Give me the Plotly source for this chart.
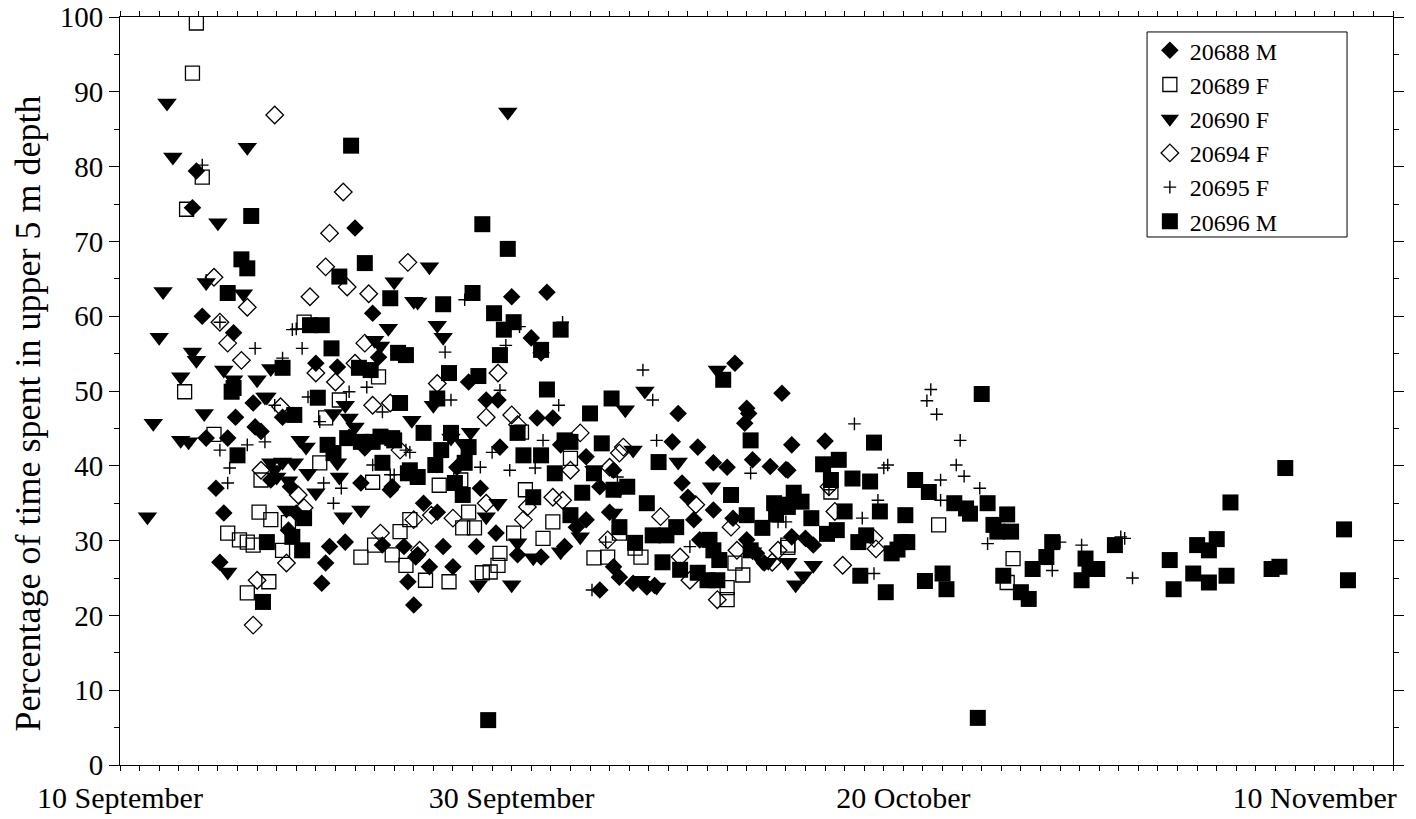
import pandas as pd
import plotly.graph_objects as go

# Day offsets are counted from 10 September; values are % of time in the upper 5 m.
START = pd.Timestamp("1999-09-10")

# 20688 M
d688 = [3.9, 3.7, 4.2, 5.8, 12.0, 12.9, 10.0, 11.1, 6.8, 13.2,
        4.4, 5.5, 4.9, 5.3, 5.1, 5.9, 6.9, 7.7, 8.3, 8.7, 8.6, 10.3, 10.5, 10.7, 11.5,
        12.3, 13.4, 13.9, 14.5, 14.7, 15.0, 15.1, 9.0, 7.2, 12.5, 11.7,
        20.0, 21.8, 21.0, 21.5, 17.8, 18.7, 19.3, 31.4, 33.8, 32.0, 28.5,
        13.8, 15.5, 16.2, 15.2, 15.8, 16.5, 17.0, 17.2, 18.4, 19.2, 18.2, 19.4, 21.3, 22.1,
        20.3, 21.5, 22.7, 23.3, 22.5, 23.8, 24.5, 25.2, 25.5, 26.2, 26.9, 27.3, 25.0, 24.5,
        25.2, 23.8, 28.2, 28.7, 29.5, 29.0, 29.3, 29.6, 30.3, 31.0, 32.3, 34.1, 34.3, 32.1,
        31.9, 32.0, 31.3, 30.3, 32.5, 32.9, 34.3, 36.0, 34.0, 33.2, 35.0, 35.4]
v688 = [79.4, 74.5, 60.0, 57.8, 71.8, 60.4, 53.7, 53.2, 48.4, 54.5,
        43.7, 43.7, 37.0, 33.7, 27.1, 46.5, 45.2, 38.1, 46.5, 37.2, 31.4, 24.3, 27.0, 29.2, 29.8,
        37.7, 29.4, 37.2, 29.2, 24.5, 21.4, 27.8, 33.7, 44.6, 42.4, 43.8,
        62.6, 63.2, 57.1, 55.1, 51.2, 48.8, 48.8, 53.7, 49.7, 47.7, 47.0,
        36.8, 35.0, 33.8, 28.1, 26.5, 29.2, 26.5, 39.8, 37.0, 31.0, 29.2, 42.5, 46.4, 46.4,
        28.1, 27.8, 29.2, 31.8, 42.8, 32.8, 23.4, 26.5, 25.1, 24.3, 23.8, 24.0, 33.8, 37.2,
        39.4, 41.2, 43.2, 37.7, 42.5, 35.8, 32.8, 30.1, 40.4, 39.8, 40.8, 39.4, 42.8, 47.0,
        45.7, 30.1, 33.0, 34.1, 28.3, 27.0, 30.5, 43.3, 39.5, 39.9, 30.3, 29.4]

# 20689 F
d689 = [3.9, 3.7, 4.2, 3.4, 3.3, 9.4, 13.2, 11.2,
        5.5, 6.1, 6.5, 6.8, 7.1, 7.7, 6.5, 7.6, 8.3, 8.6, 7.2, 10.2, 12.3, 12.9, 13.0,
        13.9, 14.6, 14.3, 14.8, 10.5, 4.8,
        15.6, 16.8, 16.3, 17.8, 17.5, 18.1, 18.5, 18.9, 19.3, 19.4, 17.4, 20.1, 20.5, 20.7,
        22.1, 21.6, 23.0, 24.2, 24.9, 25.5, 26.3, 26.6, 31.0, 31.0, 31.8, 31.4, 34.1,
        41.8, 45.6, 45.3, 34.1, 36.3]
v689 = [99.2, 92.5, 78.6, 74.3, 49.9, 59.2, 51.9, 48.8,
        31.0, 30.1, 29.8, 29.4, 33.8, 32.8, 23.0, 24.5, 28.7, 32.4, 38.1, 40.4, 27.8, 37.8, 29.4,
        28.1, 26.7, 31.2, 32.8, 46.4, 44.2,
        24.7, 24.5, 37.4, 33.8, 31.7, 31.7, 25.7, 25.8, 26.7, 28.3, 38.1, 31.0, 44.5, 36.8,
        32.5, 30.3, 41.0, 27.7, 27.8, 31.0, 29.0, 27.8, 23.7, 22.1, 25.4, 27.0, 29.4,
        32.1, 27.6, 24.4, 29.1, 36.5]

# 20690 F
d690 = [1.4, 1.7, 2.0, 2.2, 2.4, 2.7, 3.1, 3.5, 3.1, 3.7, 3.9, 4.3, 4.4, 5.0, 6.5,
        6.3, 5.3, 5.8, 7.0, 7.7, 7.5, 5.5, 8.5, 11.4, 12.3, 10.0, 7.7, 8.0, 8.9, 9.2,
        9.5, 11.1, 11.2, 10.9, 11.7, 11.5, 12.0, 7.4, 14.9, 14.0, 15.0, 13.7, 13.0, 13.3,
        15.2, 15.8, 16.2, 16.5, 19.8, 16.0, 25.8, 26.8, 30.5, 16.9, 17.9, 17.5, 19.3,
        18.7, 18.3, 20.0, 20.3, 21.1, 22.5, 23.5, 24.2, 25.2, 25.5, 26.2, 26.6, 27.4,
        30.2, 32.3, 32.8, 34.5, 34.9, 35.4, 34.1, 33.1, 7.9, 8.3, 8.6, 9.6, 28.5]
v690 = [33.2, 45.7, 57.2, 63.3, 88.5, 81.3, 43.4, 43.2, 51.9, 55.2, 54.1, 47.0, 64.5, 72.5, 82.6,
        63.0, 52.8, 51.5, 51.5, 53.0, 49.2, 25.8, 34.1, 33.2, 34.1, 36.4, 40.4, 38.5, 40.4, 43.4,
        42.5, 40.4, 38.5, 47.0, 46.4, 48.1, 45.2, 49.2, 46.1, 64.6, 62.0, 58.4, 56.8, 56.0,
        61.9, 66.6, 58.8, 57.2, 87.3, 48.1, 47.5, 50.0, 52.8, 43.7, 44.5, 43.0, 35.0,
        33.2, 24.1, 24.1, 29.7, 27.7, 28.5, 30.5, 39.4, 33.7, 36.8, 42.1, 24.7, 23.8,
        37.2, 28.5, 27.1, 24.1, 25.3, 26.7, 27.1, 27.1, 39.5, 40.5, 38.0, 39.0, 40.5]

# 20694 F
d694 = [7.9, 11.4, 10.7, 14.7, 10.5, 11.6, 12.7, 9.7, 6.5, 4.8, 5.1, 5.5, 6.2, 10.0,
        11.0, 12.5, 12.0, 8.2,
        6.8, 7.0, 8.5, 9.4, 7.2, 9.1, 13.3, 15.0, 12.9, 13.8, 14.3,
        16.2, 19.3, 20.0,
        15.9, 17.0, 15.3, 18.7, 20.3, 18.7, 20.8, 20.6, 22.1, 22.6, 23.5, 23.0, 24.9, 25.0,
        25.5, 25.7, 27.6, 28.6, 29.1, 30.5, 31.2, 31.5, 33.3, 33.6, 29.4,
        36.9, 38.6, 36.2, 36.5, 38.5]
v694 = [86.9, 76.6, 71.1, 67.2, 66.6, 63.9, 63.0, 62.6, 61.2, 65.2, 59.2, 56.4, 54.1, 52.4,
        51.2, 56.4, 53.7, 47.9,
        18.7, 24.7, 27.0, 34.4, 39.4, 36.1, 31.0, 32.8, 48.1, 48.4, 42.1,
        51.0, 52.4, 46.8,
        33.4, 33.0, 28.7, 46.5, 45.5, 35.0, 34.5, 32.8, 35.8, 35.4, 44.4, 39.4, 30.1, 39.8,
        41.7, 42.5, 33.2, 27.8, 24.7, 22.1, 31.8, 28.7, 27.1, 28.7, 34.8,
        26.7, 28.9, 37.2, 33.9, 30.3]

# 20695 F
d695 = [4.2, 5.1, 4.4, 6.9, 9.3, 8.8, 8.3, 12.6, 9.0,
        5.1, 5.6, 5.5, 6.5, 7.4, 7.9, 9.6, 10.2, 10.4, 10.9, 11.3, 11.7, 12.9, 13.4, 14.0, 14.6,
        17.6, 20.4, 19.7, 16.6, 22.6, 19.4, 16.9, 22.4, 26.7, 27.2,
        13.8, 14.8, 18.4, 19.0, 19.9, 21.2, 21.6, 27.4, 29.1, 24.1, 32.2, 34.0, 34.5, 24.8, 25.4,
        41.4, 41.2, 41.7, 37.5, 42.9, 42.7, 43.1, 43.9, 41.9, 39.2, 39.0, 38.7, 37.9, 38.5,
        36.2, 33.6, 44.3, 47.6, 48.0, 49.1, 51.1, 51.3, 51.7, 41.9]
v695 = [80.2, 59.2, 64.8, 55.7, 55.7, 58.2, 54.4, 50.5, 58.3,
        42.1, 39.7, 37.7, 42.8, 43.2, 48.1, 49.2, 45.9, 37.7, 35.0, 37.0, 49.9, 40.1, 47.2, 38.8, 42.1,
        62.2, 58.6, 56.1, 55.2, 59.2, 50.1, 48.8, 48.1, 52.8, 48.8,
        38.8, 41.8, 39.8, 41.8, 39.4, 39.7, 43.4, 43.4, 29.2, 23.4, 39.0, 32.5, 36.1, 29.8, 38.5,
        50.2, 48.7, 46.9, 45.6, 43.4, 40.1, 38.6, 37.0, 38.1, 40.1, 39.7, 35.4, 33.0, 25.6,
        36.8, 32.5, 29.6, 26.0, 29.8, 29.4, 30.5, 30.3, 25.0, 35.4]

# 20696 M
d696 = [11.8, 6.7, 6.2, 6.5, 5.5, 12.5, 11.2, 13.8, 9.7, 10.3, 10.8, 14.6, 14.2, 8.3,
        12.2, 12.8, 5.8, 10.1, 14.3,
        18.5, 19.8, 16.5, 18.0, 19.1, 20.1, 19.6, 22.5, 21.5, 19.4, 16.8, 18.3, 21.8, 25.1,
        30.8, 24.0, 16.2, 27.5, 32.2, 18.8,
        6.0, 7.5, 7.3, 9.4, 9.3, 8.8, 8.9, 10.6, 10.9, 12.3, 12.9, 13.4, 14.0, 14.7, 15.2,
        5.7, 11.6,
        13.3, 13.9, 14.8, 15.5, 16.1, 16.9, 17.6, 17.1, 17.5, 16.4, 17.8, 20.3, 21.1, 20.6,
        21.5, 22.2, 23.0, 23.6, 22.7, 23.0, 24.6, 24.2, 25.2, 25.9, 26.9, 27.2, 27.9, 27.7,
        28.4, 28.6, 29.5, 30.0, 30.5, 30.1, 30.6, 31.2, 32.0, 32.2, 32.8, 33.4, 34.1, 34.4,
        30.3, 25.5, 26.3, 33.5, 34.0, 34.8, 35.3,
        44.0, 43.8, 59.5, 56.7, 62.5, 62.7, 59.2, 58.8, 56.0, 55.0, 55.6, 56.5, 54.8, 55.6,
        53.6, 53.8, 50.8, 49.5, 49.3, 49.1, 49.9, 47.6, 47.3, 46.6, 46.4, 46.0, 45.1, 45.3,
        45.5, 44.8, 44.6, 44.3, 43.4, 43.2, 42.6, 42.0, 42.2, 41.1, 41.3, 40.6, 39.9, 40.2,
        39.4, 39.7, 39.1, 38.8, 40.1, 38.3, 38.5, 37.8, 37.7, 38.1, 37.4, 36.7, 35.9, 36.3,
        37.0, 36.6, 36.1]
v696 = [82.8, 73.4, 67.6, 66.4, 63.1, 67.1, 65.3, 62.4, 58.8, 58.8, 55.7, 54.8, 55.1, 53.1,
        53.1, 52.8, 50.4, 49.1, 48.4,
        72.3, 69.0, 61.6, 63.1, 60.4, 59.2, 58.2, 58.2, 55.5, 54.8, 52.4, 52.0, 50.2, 49.0,
        51.5, 47.0, 49.0, 40.5, 43.4, 6.0,
        41.4, 29.8, 21.8, 33.0, 28.7, 30.5, 46.8, 42.8, 41.7, 43.2, 43.2, 40.4, 43.4, 39.0, 38.5,
        49.9, 43.7,
        43.9, 43.7, 39.4, 44.4, 40.1, 44.4, 40.4, 37.7, 36.1, 42.1, 42.5, 44.4, 35.8, 41.4,
        41.4, 39.0, 43.2, 36.4, 43.4, 33.4, 43.0, 39.0, 36.8, 37.2, 35.0, 30.7, 30.7, 27.1,
        31.8, 26.1, 25.7, 24.7, 24.7, 30.1, 27.4, 36.1, 33.4, 28.7, 31.7, 35.0, 34.5, 36.4,
        28.7, 31.8, 29.7, 33.5, 34.8, 35.2, 33.0,
        49.6, 6.3, 39.7, 35.1, 31.5, 24.7, 26.5, 26.2, 30.2, 29.4, 28.7, 25.3, 25.6, 24.4,
        27.4, 23.5, 29.4, 26.2, 27.6, 24.7, 26.2, 29.8, 27.8, 26.2, 22.2, 23.1, 25.3, 33.5,
        31.2, 31.2, 32.1, 35.0, 33.6, 34.3, 35.0, 25.6, 23.5, 24.6, 36.5, 38.1, 29.8, 29.8,
        28.3, 28.8, 23.1, 33.9, 33.4, 37.9, 43.1, 25.3, 29.8, 30.7, 38.3, 40.8, 40.2, 38.1,
        33.9, 31.4, 30.9]

tags = ["20688 M", "20689 F", "20690 F", "20694 F", "20695 F", "20696 M"]
days = [d688, d689, d690, d694, d695, d696]
vals = [v688, v689, v690, v694, v695, v696]

tick_dates = ["1999-09-10", "1999-09-30", "1999-10-20", "1999-11-10"]
tick_text = ["10 September", "30 September", "20 October", "10 November"]
y_ticks = [0, 10, 20, 30, 40, 50, 60, 70, 80, 90, 100]

styles = [
    dict(symbol="diamond", size=13.5, color="black", line=dict(width=0)),
    dict(symbol="square-open", size=14, color="black", line=dict(width=1.3, color="black")),
    dict(symbol="triangle-down", size=17, color="black", line=dict(width=0)),
    dict(symbol="diamond-open", size=13.5, color="black", line=dict(width=1.3, color="black")),
    dict(symbol="cross-thin-open", size=9, color="black", line=dict(width=1.4, color="black")),
    dict(symbol="square", size=16, color="black", line=dict(width=0)),
]

SERIF = "Liberation Serif, Times New Roman, serif"

fig = go.Figure()
for name, d, v, st in zip(tags, days, vals, styles):
    x = START + pd.to_timedelta(d, unit="D")
    fig.add_trace(go.Scatter(x=x, y=v, mode="markers", name=name, legendgroup=name,
                             marker=st, hoverinfo="x+y+name"))

# legend frame
fig.add_shape(type="rect", xref="paper", yref="paper",
              x0=0.8068, x1=0.9639, y0=0.7059, y1=0.980,
              line=dict(color="black", width=1), fillcolor="rgba(0,0,0,0)", layer="above")

# y-axis title
fig.add_annotation(xref="paper", yref="paper", x=-0.0723, y=0.47,
                   text="Percentage of time spent in upper 5 m depth",
                   textangle=-90, showarrow=False, xanchor="center", yanchor="middle",
                   font=dict(size=36, family=SERIF, color="black"))

fig.update_layout(
    width=1416, height=819,
    margin=dict(l=120, r=23, t=17, b=54),
    paper_bgcolor="white", plot_bgcolor="white",
    font=dict(family=SERIF, color="black", size=26),
    showlegend=True,
    legend=dict(x=0.809, y=0.985, xanchor="left", yanchor="top",
                borderwidth=0, bgcolor="rgba(255,255,255,0)",
                font=dict(size=24, family=SERIF), tracegroupgap=0),
)

fig.update_xaxes(
    type="date", automargin=False,
    range=[START, START + pd.Timedelta(days=65)],
    tickvals=tick_dates, ticktext=tick_text,
    tickfont=dict(size=30, family=SERIF), ticklabelstandoff=1,
    ticks="outside", ticklen=5, tickcolor="black",
    minor=dict(dtick=86400000, tick0="1999-09-10", ticks="outside", ticklen=5,
               tickcolor="black", showgrid=False),
    showline=True, linecolor="black", linewidth=1, mirror="ticks",
    showgrid=False, zeroline=False,
)

fig.update_yaxes(
    automargin=False,
    range=[0, 100], tickvals=y_ticks, ticklabeloverflow="allow",
    tickfont=dict(size=29, family=SERIF),
    ticks="outside", ticklen=10, tickcolor="black",
    minor=dict(dtick=5, tick0=0, ticks="outside", ticklen=5, tickcolor="black", showgrid=False),
    showline=True, linecolor="black", linewidth=1, mirror="ticks",
    showgrid=False, zeroline=False,
)

fig.write_html("out.html")
